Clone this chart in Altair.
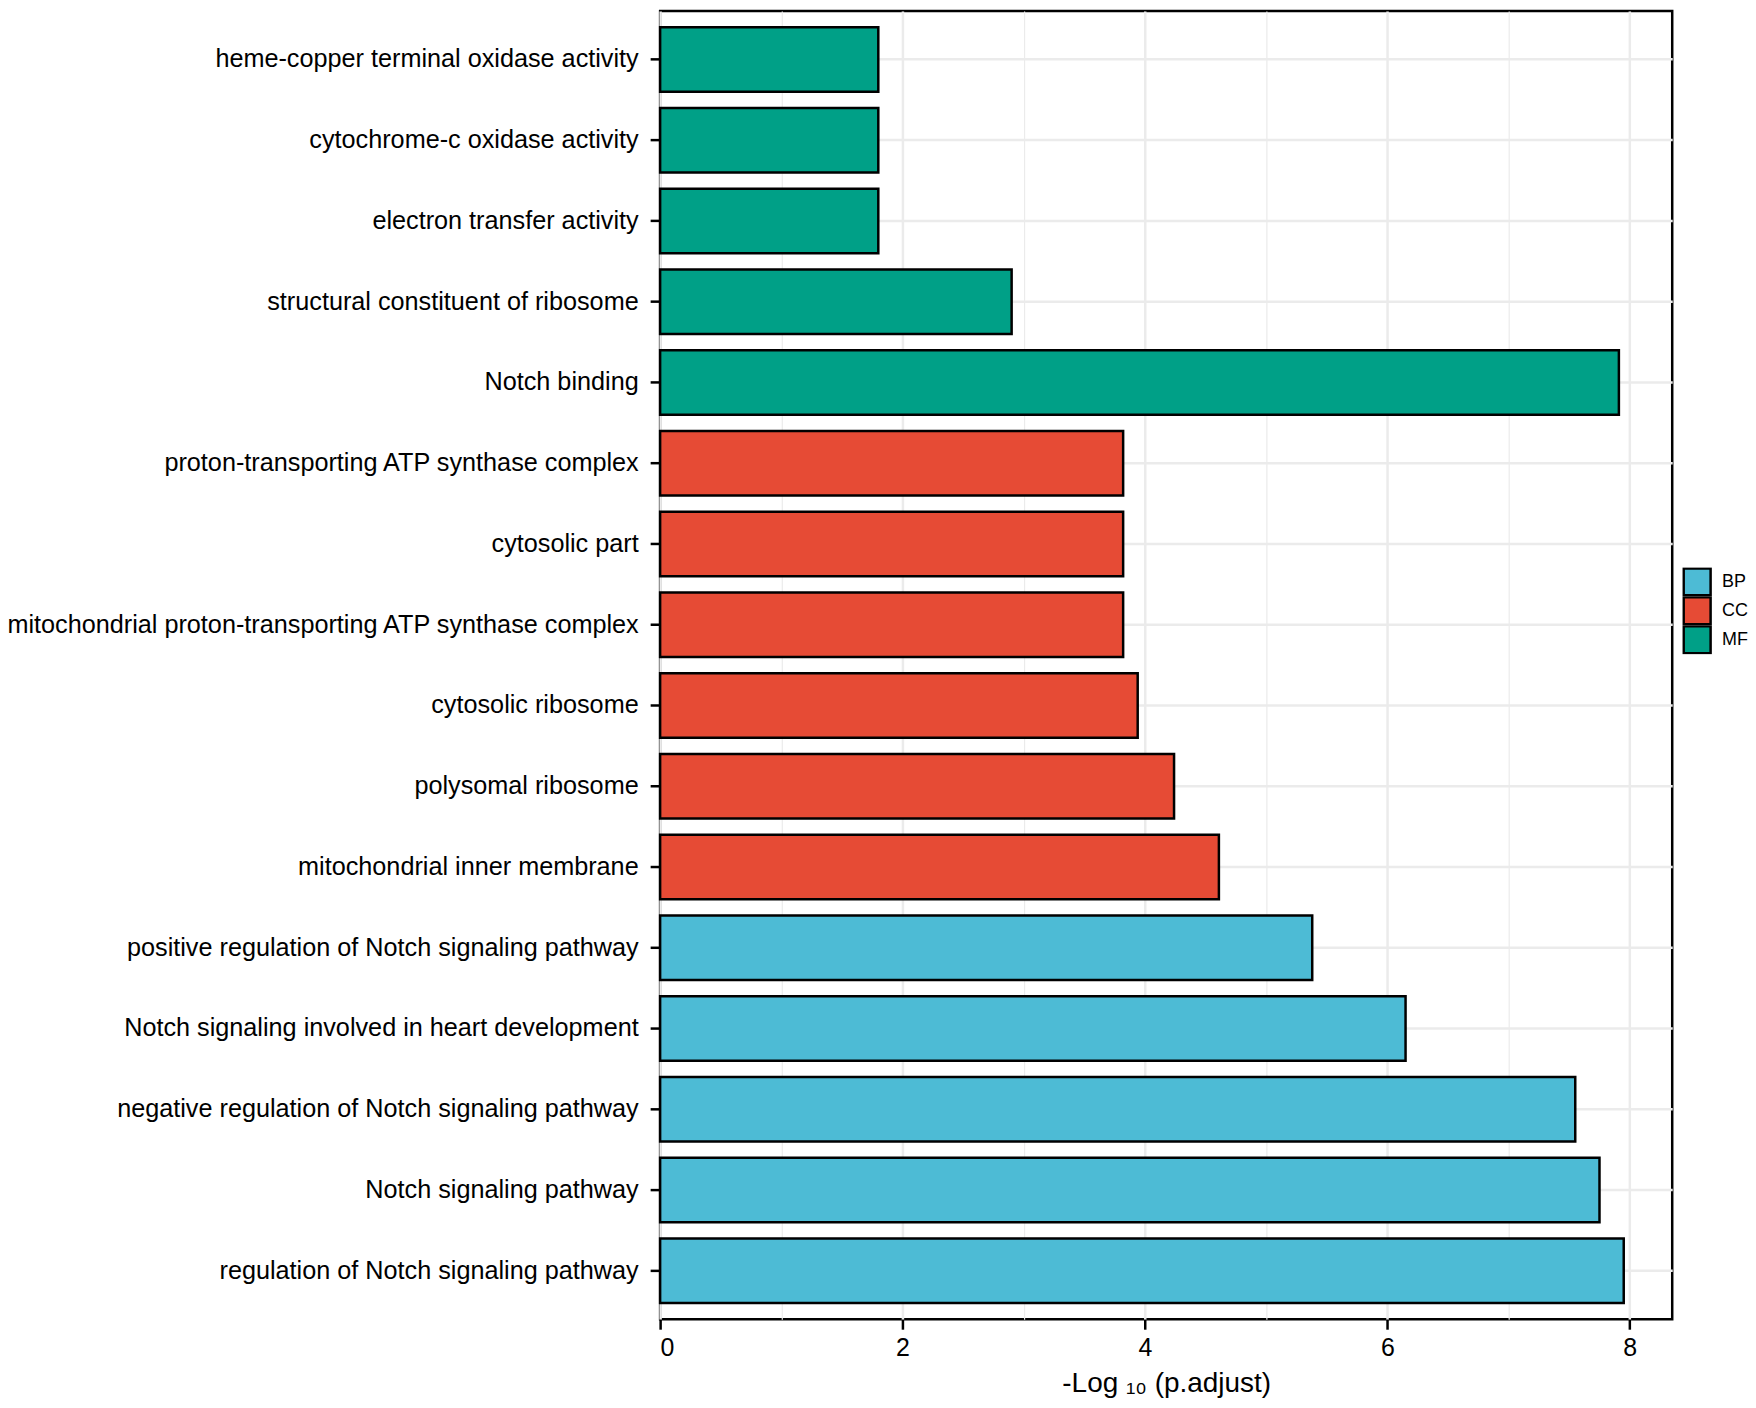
import altair as alt
import pandas as pd

terms = [
    "heme-copper terminal oxidase activity",
    "cytochrome-c oxidase activity",
    "electron transfer activity",
    "structural constituent of ribosome",
    "Notch binding",
    "proton-transporting ATP synthase complex",
    "cytosolic part",
    "mitochondrial proton-transporting ATP synthase complex",
    "cytosolic ribosome",
    "polysomal ribosome",
    "mitochondrial inner membrane",
    "positive regulation of Notch signaling pathway",
    "Notch signaling involved in heart development",
    "negative regulation of Notch signaling pathway",
    "Notch signaling pathway",
    "regulation of Notch signaling pathway",
]
values = [1.80, 1.80, 1.80, 2.90, 7.91, 3.82, 3.82, 3.82, 3.94, 4.24, 4.61,
          5.38, 6.15, 7.55, 7.75, 7.95]
groups = ["MF"] * 5 + ["CC"] * 6 + ["BP"] * 5

group_names = ["BP", "CC", "MF"]
group_colors = ["#4DBBD5", "#E64B35", "#00A087"]
x_ticks = [0, 1, 2, 3, 4, 5, 6, 7, 8]

df = pd.DataFrame({"term": terms, "value": values, "group": groups})

FONT = "Liberation Sans"

chart = alt.Chart(df).mark_bar(stroke="black", strokeWidth=2.5).encode(
    x=alt.X(
        "value:Q",
        scale=alt.Scale(domain=[0, 8.35], nice=False, zero=True),
        title="-Log ₁₀ (p.adjust)",
        axis=alt.Axis(
            values=x_ticks,
            labelExpr="datum.value % 2 === 0 ? datum.label : ''",
            gridWidth={"expr": "datum.value % 2 === 0 ? 2.5 : 1.2"},
            gridColor="#EBEBEB",
            tickOpacity={"expr": "datum.value % 2 === 0 ? 1 : 0"},
            tickColor="black",
            tickWidth=2.5,
            tickSize=10,
            domain=False,
            labelFont=FONT,
            labelFontSize=25,
            labelColor="black",
            labelPadding=6,
            titleFont=FONT,
            titleFontSize=28,
            titleFontWeight="normal",
            titleColor="black",
            titlePadding=9,
        ),
    ),
    y=alt.Y(
        "term:N",
        sort=terms,
        title=None,
        scale=alt.Scale(paddingInner=0.2, paddingOuter=0.2),
        axis=alt.Axis(
            grid=True,
            bandPosition=0.5,
            gridColor="#EBEBEB",
            gridWidth=2.5,
            tickColor="black",
            tickWidth=2.5,
            tickSize=10,
            domain=False,
            labelFont=FONT,
            labelFontSize=25.3,
            labelColor="black",
            labelPadding=12,
            labelLimit=1000,
        ),
    ),
    color=alt.Color(
        "group:N",
        title=None,
        scale=alt.Scale(domain=group_names, range=group_colors),
        legend=alt.Legend(
            orient="none",
            legendX=1025,
            legendY=558,
            symbolType="square",
            symbolSize=729,
            symbolStrokeColor="black",
            symbolStrokeWidth=2.5,
            symbolOpacity=1,
            labelFont=FONT,
            labelFontSize=18,
            labelColor="black",
            labelOffset=10,
            clipHeight=29,
            rowPadding=0,
        ),
    ),
).properties(
    width=1015,
    height=1312,
    padding={"left": -4, "top": 1, "right": 0, "bottom": 0},
).configure_view(
    stroke="black",
    strokeWidth=2.5,
)

chart.save("out.html", embed_options={"renderer": "svg", "actions": False})
